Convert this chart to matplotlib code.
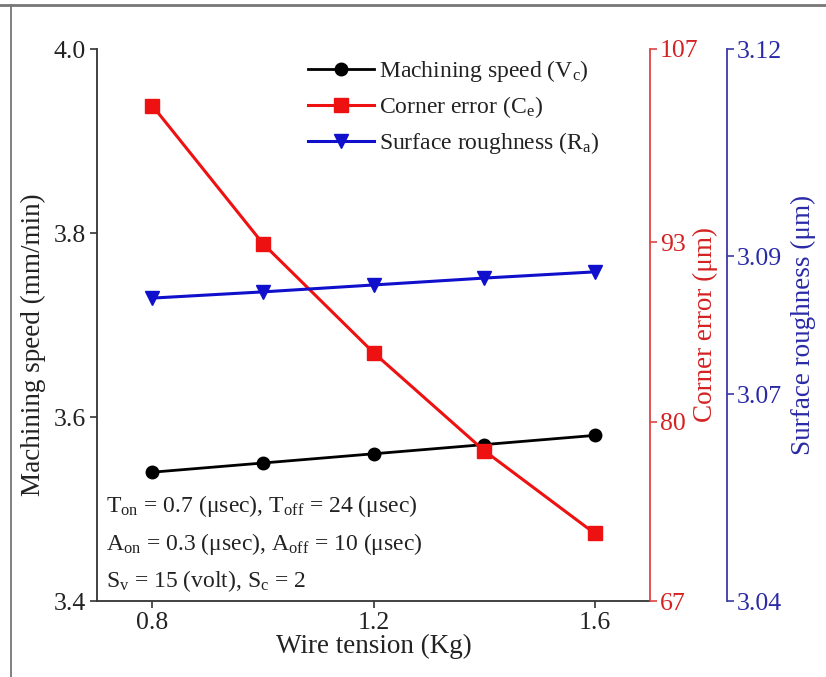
import matplotlib
matplotlib.use("Agg")
import matplotlib.pyplot as plt
from matplotlib.lines import Line2D

plt.rcParams['font.family'] = ['Liberation Serif', 'DejaVu Serif']
plt.rcParams['mathtext.fontset'] = 'custom'
plt.rcParams['mathtext.rm'] = 'Liberation Serif'
plt.rcParams['mathtext.it'] = 'Liberation Serif:italic'

# ---- data ----
wire_tension = [0.8, 1.0, 1.2, 1.4, 1.6]
machining_speed = [3.54, 3.55, 3.56, 3.57, 3.58]
corner_error = [102.9, 92.9, 85.0, 77.9, 71.9]
surface_roughness = [3.0839, 3.0848, 3.0858, 3.0868, 3.0877]

x_ticks = [0.8, 1.2, 1.6]
speed_ticks = [3.4, 3.6, 3.8, 4.0]
corner_ticks = [67, 80, 93, 107]
rough_ticks = [3.04, 3.07, 3.09, 3.12]

label_speed = "Machining speed (V$_\\mathrm{c}$)"
label_corner = "Corner error (C$_\\mathrm{e}$)"
label_rough = "Surface roughness (R$_\\mathrm{a}$)"
notes = [
    "T$_\\mathrm{on}$ = 0.7 (\u03bcsec), T$_\\mathrm{off}$ = 24 (\u03bcsec)",
    "A$_\\mathrm{on}$ = 0.3 (\u03bcsec), A$_\\mathrm{off}$ = 10 (\u03bcsec)",
    "S$_\\mathrm{v}$ = 15 (volt), S$_\\mathrm{c}$ = 2",
]

W, H = 826, 677
fig = plt.figure(figsize=(W / 100, H / 100), dpi=100)
L, R, T, B = 97, 650, 49, 601
ax = fig.add_axes([L / W, 1 - B / H, (R - L) / W, (B - T) / H])

red = '#ee1111'
red_axis = '#dd4444'
blue = '#1010cc'
blue_axis = '#3a3aa8'
black_axis = '#333333'

ax.plot(wire_tension, machining_speed, color='black', lw=2.0, marker='o', ms=9,
        label=label_speed, zorder=3)
ax.set_xlim(0.7, 1.7)
ax.set_ylim(3.4, 4.0)
ax.set_xticks(x_ticks)
ax.set_yticks(speed_ticks)
ax.set_xticklabels([f"{v:.1f}" for v in x_ticks])
ax.set_yticklabels([f"{v:.1f}" for v in speed_ticks])
for s in ['top', 'right']:
    ax.spines[s].set_visible(False)
for s in ['left', 'bottom']:
    ax.spines[s].set_color(black_axis)
    ax.spines[s].set_linewidth(1.3)
ax.tick_params(axis='both', direction='out', length=5, width=1.2,
               colors=black_axis, labelsize=18.5, labelcolor='#222222', pad=3)
ax.set_xlabel("Wire tension (Kg)", fontsize=19.5, color='#222222', labelpad=0)
ax.set_ylabel("Machining speed (mm/min)", fontsize=19.5, color='#222222')
ax.yaxis.set_label_coords(-0.093, 0.465)

ax2 = ax.twinx()
ax2.plot(wire_tension, corner_error, color=red, lw=2.2, marker='s', ms=9.5,
         label=label_corner, zorder=3)
ax2.set_ylim(67, 107)
ax2.set_yticks(corner_ticks)
for s in ['top', 'left', 'bottom']:
    ax2.spines[s].set_visible(False)
ax2.spines['right'].set_color(red_axis)
ax2.spines['right'].set_linewidth(1.3)
ax2.tick_params(axis='y', direction='out', length=5, width=1.2,
                colors=red_axis, labelsize=18.5, labelcolor='#d42222', pad=2)
ax2.set_ylabel("Corner error (\u03bcm)", fontsize=19.5, color='#d42222')
ax2.yaxis.set_label_coords(1.078, 0.5)

ax3 = ax.twinx()
ax3.plot(wire_tension, surface_roughness, color=blue, lw=2.2, marker='v', ms=10,
         label=label_rough, zorder=3)
ax3.set_ylim(3.04, 3.12)
ax3.set_yticks(rough_ticks)
ax3.set_yticklabels([f"{v:.2f}" for v in rough_ticks])
for s in ['top', 'left', 'bottom']:
    ax3.spines[s].set_visible(False)
ax3.spines['right'].set_position(('axes', (727 - L) / (R - L)))
ax3.spines['right'].set_color(blue_axis)
ax3.spines['right'].set_linewidth(1.3)
ax3.tick_params(axis='y', direction='out', length=5, width=1.2,
                colors=blue_axis, labelsize=18.5, labelcolor='#2a2aa8', pad=2)
ax3.set_ylabel("Surface roughness (\u03bcm)", fontsize=19.5, color='#2a2aa8')
ax3.yaxis.set_label_coords(1.255, 0.5)

handles = ax.get_lines() + ax2.get_lines() + ax3.get_lines()
leg = ax3.legend(handles, [h.get_label() for h in handles],
                 loc='upper left', bbox_to_anchor=((308 - L) / (R - L), (B - 58) / (B - T)),
                 frameon=False, fontsize=17, handlelength=2.8, handletextpad=0.2,
                 labelspacing=0.42, borderpad=0, borderaxespad=0)
for t in leg.get_texts():
    t.set_color('#222222')

for txt, yb in zip(notes, [512, 550, 587]):
    ax3.text((106 - L) / (R - L), (B - yb) / (B - T), txt, transform=ax.transAxes,
             fontsize=17, color='#222222', ha='left', va='baseline')

# figure frame
fig.add_artist(Line2D([0, 1], [1 - 5 / H, 1 - 5 / H], transform=fig.transFigure,
                      color='#777777', lw=2))
fig.add_artist(Line2D([11 / W, 11 / W], [0, 1 - 5 / H], transform=fig.transFigure,
                      color='#777777', lw=1.3))

fig.savefig("out.png", dpi=100)
